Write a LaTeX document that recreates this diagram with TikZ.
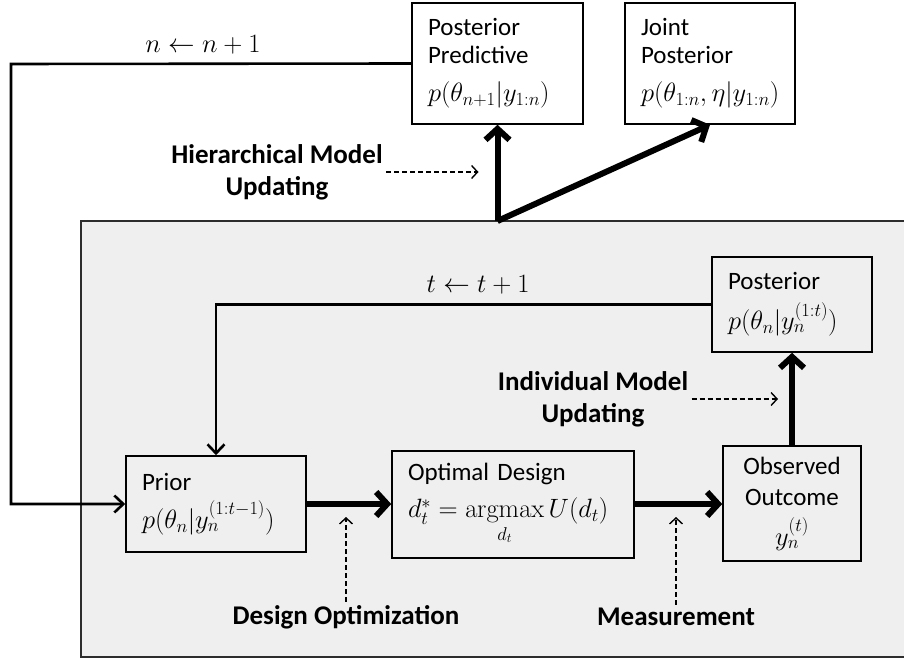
\RequirePackage{fix-cm}
\documentclass[tikz,border=0pt]{standalone}
\usepackage{amsmath, amsfonts, amssymb}
\usepackage[no-math]{fontspec}
\setmainfont{Carlito}
\usepackage{xcolor}
\usepackage{tikz}
\usetikzlibrary{arrows.meta}

\definecolor{panel}{RGB}{239,239,239}
\definecolor{rim}{RGB}{45,45,45}

\newcommand{\fml}[1]{{\fontsize{26.5}{30}\selectfont$#1$}}

\begin{document}
\begin{tikzpicture}[x=1pt, y=-1pt,
  box/.style={draw, line width=1.6pt, align=left, inner xsep=16pt, inner ysep=0pt, font=\fontsize{25}{28}\selectfont},
  lbl/.style={align=center, font=\fontsize{27}{32}\selectfont\bfseries},
  link/.style={line width=2.6pt, -{Straight Barb[length=9pt, width=17pt]}},
  flow/.style={line width=6pt, -{Straight Barb[length=11pt, width=24pt]}},
  hint/.style={line width=1.4pt, dash pattern=on 5pt off 3pt, -{Straight Barb[length=6pt, width=13pt]}}]

\useasboundingbox (0,0) rectangle (904,660);

\fill[panel] (81,221) rectangle (904,657);
\draw[rim, line width=1.8pt] (904,221) -- (81,221) -- (81,657) -- (904,657);

\node[box, text width=139pt, minimum height=121pt] (predictive) at (497.5,63.5) {Posterior\\Predictive\\[10pt]\fml{p(\theta_{n+1}|y_{1:n})}};
\node[box, text width=138pt, minimum height=121pt] (joint) at (710,63.5) {Joint\\Posterior\\[10pt]\fml{p(\theta_{1:n},\eta|y_{1:n})}};
\node[box, text width=128pt, minimum height=95pt] (posterior) at (792,304.5) {Posterior\\[12pt]\fml{p(\theta_n|y_n^{(1:t)})}};
\node[box, text width=148pt, minimum height=96pt] (prior) at (216,504) {Prior\\[10pt]\fml{p(\theta_n|y_n^{(1:t-1)})}};
\node[box, text width=210pt, minimum height=107pt] (design) at (513,504.5) {Optimal Design\\[9pt]\fml{d_t^* = \operatorname*{argmax}\limits_{d_t} U(d_t)}};
\node[box, text width=106pt, minimum height=115pt, align=center, font=\fontsize{25}{31}\selectfont] (outcome) at (792,503.5) {Observed\\Outcome\\[9pt]\fml{y_n^{(t)}}};

\node (nstep) at (203,45) {\fml{n \leftarrow n+1}};
\node (tstep) at (478,285) {\fml{t \leftarrow t+1}};

\coordinate (loop) at (11,64);
\coordinate (hub) at (497.5,221);

\draw[link] (predictive.west) -- (loop) |- (prior.west);
\draw[link] (posterior.west) -| (prior.north);

\draw[flow] (prior.east) -- (design.west |- prior.east);
\draw[flow] (design.east |- prior.east) -- (outcome.west |- prior.east);
\draw[flow] (outcome.north) -- (posterior.south);
\draw[flow] (hub) -- (predictive.south);
\draw[flow] (hub) -- (joint.south);

\node[lbl] (hierlbl) at (277,172) {Hierarchical Model\\Updating};
\node[lbl] (indivlbl) at (593,399) {Individual Model\\Updating};
\node[lbl] (optlbl) at (346,617) {Design Optimization};
\node[lbl] (measlbl) at (676,617) {Measurement};

\draw[hint] (hierlbl.east) -- ([xshift=-19pt]hub |- hierlbl.east);
\draw[hint] (indivlbl.east) -- ([xshift=-14pt]outcome.north |- indivlbl.east);
\draw[hint] (optlbl.north) -- ([yshift=-13pt]optlbl.north |- prior.east);
\draw[hint] (measlbl.north) -- ([yshift=-13pt]measlbl.north |- prior.east);

\end{tikzpicture}
\end{document}
